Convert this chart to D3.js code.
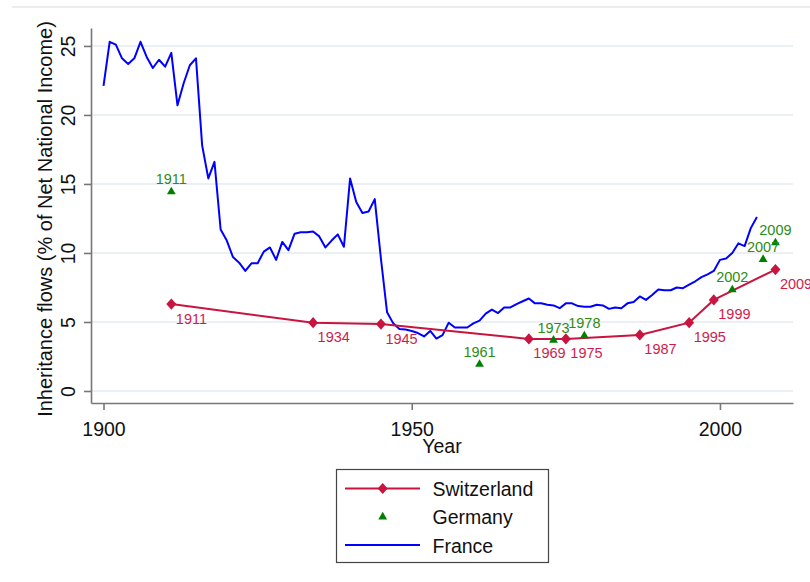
<!DOCTYPE html>
<html><head><meta charset="utf-8">
<script src="https://cdn.jsdelivr.net/npm/d3@7"></script>
<style>
html,body{margin:0;padding:0;background:#fff;}
svg{display:block;font-family:"Liberation Sans",Arial,sans-serif;}
</style></head>
<body>
<svg id="c" width="810" height="582"></svg>
<script>
// France: annual series 1900-2006
const franceYears = d3.range(1900, 2007);
const franceValues = [
 22.1,25.3,25.1,24.1,23.7,24.1,25.3,24.2,23.4,24.0,
 23.5,24.5,20.7,22.3,23.6,24.1,17.8,15.4,16.6,11.7,
 10.9,9.7,9.3,8.7,9.25,9.25,10.1,10.4,9.5,10.8,
 10.2,11.4,11.5,11.5,11.55,11.2,10.4,10.9,11.35,10.45,
 15.4,13.7,12.9,13.0,13.9,9.6,5.7,4.9,4.5,4.45,
 4.35,4.2,3.95,4.35,3.8,4.05,4.95,4.6,4.6,4.6,
 4.9,5.1,5.6,5.9,5.65,6.05,6.05,6.3,6.5,6.7,
 6.35,6.35,6.25,6.2,6.0,6.35,6.35,6.15,6.1,6.1,
 6.25,6.2,5.95,6.05,6.0,6.35,6.45,6.85,6.6,6.95,
 7.35,7.3,7.3,7.5,7.45,7.7,7.95,8.25,8.45,8.7,
 9.5,9.6,10.0,10.7,10.5,11.8,12.6
];
const swissYears = [1911,1934,1945,1969,1975,1987,1995,1999,2009];
const swissValues = [6.3,4.95,4.85,3.77,3.77,4.06,4.95,6.6,8.8];
const germanyYears = [1911,1961,1973,1978,2002,2007,2009];
const germanyValues = [14.5,2.0,3.75,4.06,7.4,9.6,10.8];
const xTicks = [1900,1950,2000];
const yTicks = [0,5,10,15,20,25];
const legendLabels = ["Switzerland","Germany","France"];

const cSwiss = "#c8143e", cSwissTxt = "#d01c4c";
const cGer = "#008000", cGerTxt = "#2f8c12";
const cFr = "#0000ff";

const svg = d3.select("#c");
const x = d3.scaleLinear().domain([1897.97, 2011.85]).range([91, 793]);
const y = d3.scaleLinear().domain([-0.87, 26.3]).range([403, 28]);

// faint top rule
svg.append("line").attr("x1",12).attr("x2",810).attr("y1",7).attr("y2",7)
  .attr("stroke","#e6e6e6").attr("stroke-width",1.5);

// gridlines
svg.append("g").selectAll("line").data(yTicks).join("line")
  .attr("x1",x.range()[0]).attr("x2",x.range()[1])
  .attr("y1",d=>y(d)).attr("y2",d=>y(d))
  .attr("stroke","#e3ebf0").attr("stroke-width",1.6);

// axes
const ax = svg.append("g").attr("transform","translate(0,403)")
  .call(d3.axisBottom(x).tickValues(xTicks).tickSize(7).tickSizeOuter(0).tickFormat(d3.format("d")));
const ay = svg.append("g").attr("transform","translate(91,0)")
  .call(d3.axisLeft(y).tickValues(yTicks).tickSize(7).tickSizeOuter(0));
[ax,ay].forEach(g=>{
  g.select(".domain").attr("stroke","#777").attr("stroke-width",1.6);
  g.selectAll(".tick line").attr("stroke","#777").attr("stroke-width",1.6);
  g.selectAll(".tick text").attr("fill","#111").attr("font-size","19.5px")
   .attr("font-family","'Liberation Sans',Arial,sans-serif");
});
ax.selectAll(".tick text").attr("dy",null).attr("y",33);
ay.selectAll(".tick text").attr("x",null).attr("dy",null)
  .attr("transform","rotate(-90)").attr("text-anchor","middle")
  .attr("y",-16);

// axis titles
svg.append("text").attr("x",442).attr("y",452.5).attr("text-anchor","middle")
  .attr("font-size","19.5px").attr("fill","#111").text("Year");
svg.append("text").attr("transform","translate(52,219) rotate(-90)")
  .attr("text-anchor","middle").attr("font-size","20px").attr("fill","#111")
  .text("Inheritance flows (% of Net National Income)");

// France line
const frData = franceYears.map((yr,i)=>({yr, v:franceValues[i]}));
svg.append("path").datum(frData)
  .attr("d", d3.line().x(d=>x(d.yr)).y(d=>y(d.v)))
  .attr("fill","none").attr("stroke",cFr).attr("stroke-width",2)
  .attr("stroke-linejoin","round");

// Switzerland
const swData = swissYears.map((yr,i)=>({yr, v:swissValues[i]}));
svg.append("path").datum(swData)
  .attr("d", d3.line().x(d=>x(d.yr)).y(d=>y(d.v)))
  .attr("fill","none").attr("stroke",cSwiss).attr("stroke-width",2);
const diamond = "M0,-5.6L5,0L0,5.6L-5,0Z";
svg.append("g").selectAll("path").data(swData).join("path")
  .attr("transform",d=>`translate(${x(d.yr)},${y(d.v)})`)
  .attr("d",diamond).attr("fill",cSwiss);
svg.append("g").selectAll("text").data(swData).join("text")
  .attr("x",d=>x(d.yr)+4.5).attr("y",d=>y(d.v)+19.5)
  .attr("font-size","14.5px").attr("fill",cSwissTxt).text(d=>d.yr);

// Germany
const deData = germanyYears.map((yr,i)=>({yr, v:germanyValues[i]}));
const tri = "M0,-4.2L4.4,3.4L-4.4,3.4Z";
svg.append("g").selectAll("path").data(deData).join("path")
  .attr("transform",d=>`translate(${x(d.yr)},${y(d.v)})`)
  .attr("d",tri).attr("fill",cGer);
svg.append("g").selectAll("text").data(deData).join("text")
  .attr("x",d=>x(d.yr)).attr("y",d=>y(d.v)-6.5).attr("text-anchor","middle")
  .attr("font-size","14.5px").attr("fill",cGerTxt).text(d=>d.yr);

// legend
const lg = svg.append("g");
lg.append("rect").attr("x",336.5).attr("y",469.5).attr("width",212).attr("height",93)
  .attr("fill","#fff").attr("stroke","#444").attr("stroke-width",1.2);
const rowsY = [488.5, 516, 545];
lg.append("line").attr("x1",345).attr("x2",420).attr("y1",rowsY[0]).attr("y2",rowsY[0])
  .attr("stroke",cSwiss).attr("stroke-width",2);
lg.append("path").attr("transform",`translate(382.7,${rowsY[0]})`).attr("d",diamond).attr("fill",cSwiss);
lg.append("path").attr("transform",`translate(382.7,${rowsY[1]})`).attr("d",tri).attr("fill",cGer);
lg.append("line").attr("x1",345).attr("x2",420).attr("y1",rowsY[2]).attr("y2",rowsY[2])
  .attr("stroke",cFr).attr("stroke-width",2);
lg.selectAll("text").data(legendLabels).join("text")
  .attr("x",432.5).attr("y",(d,i)=>rowsY[i]+7.5)
  .attr("font-size","19.5px").attr("fill","#111").text(d=>d);
</script>
</body></html>
